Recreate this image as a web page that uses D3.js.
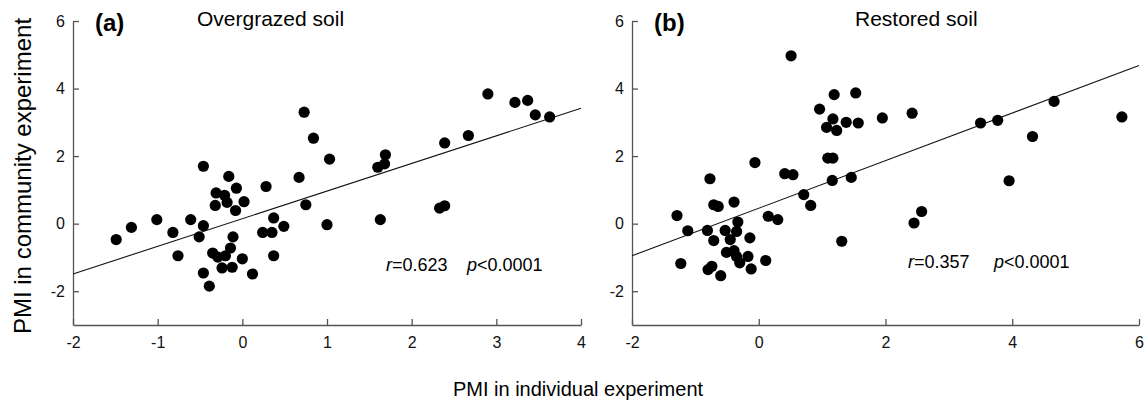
<!DOCTYPE html>
<html>
<head>
<meta charset="utf-8">
<script src="https://cdn.jsdelivr.net/npm/d3@7"></script>
<style>
  body { margin: 0; background: #fff; }
  svg { display: block; font-family: Arial, "Liberation Sans", sans-serif; }
</style>
</head>
<body>
<div id="main"></div>
<script>
// data
var yTicks = [-2, 0, 2, 4, 6];
var xTicksA = [-2, -1, 0, 1, 2, 3, 4];
var xTicksB = [-2, 0, 2, 4, 6];

// (a) overgrazed soil: [individual, community]
var overgrazed = [
  [-0.46, 1.70], [-0.16, 1.40], [-0.07, 1.05], [0.28, 1.10], [0.67, 1.37],
  [0.73, 3.30], [0.84, 2.53], [-0.31, 0.91], [-0.21, 0.84], [-0.18, 0.63],
  [0.02, 0.65], [-0.32, 0.54], [-0.08, 0.39], [0.75, 0.56], [-1.01, 0.12],
  [-1.31, -0.11], [-1.49, -0.47], [-0.61, 0.12], [-0.46, -0.06], [-0.51, -0.39],
  [-0.82, -0.26], [-0.76, -0.95], [-0.11, -0.39], [-0.14, -0.72], [-0.35, -0.87],
  [-0.29, -0.99], [-0.20, -0.95], [0.00, -1.04], [-0.24, -1.31], [-0.12, -1.29],
  [-0.46, -1.46], [-0.39, -1.85], [0.12, -1.49], [0.24, -0.26], [0.35, -0.26],
  [0.37, 0.17], [0.49, -0.08], [0.37, -0.95], [1.00, -0.03], [1.63, 0.12],
  [2.33, 0.46], [2.39, 0.53], [1.03, 1.91], [1.60, 1.67], [1.68, 1.77],
  [1.69, 2.04], [2.39, 2.39], [2.67, 2.61], [2.90, 3.84], [3.22, 3.59],
  [3.37, 3.65], [3.46, 3.22], [3.63, 3.16]
];

// (b) restored soil
var restored = [
  [0.51, 4.97], [-0.77, 1.33], [-0.06, 1.81], [0.41, 1.48], [0.54, 1.45],
  [0.96, 3.39], [1.19, 3.82], [1.53, 3.87], [1.07, 2.85], [1.17, 3.10],
  [1.23, 2.76], [1.38, 3.00], [1.57, 2.98], [1.09, 1.94], [1.17, 1.94],
  [1.16, 1.28], [1.46, 1.37], [0.71, 0.86], [1.95, 3.13], [2.42, 3.27],
  [3.50, 2.98], [3.77, 3.06], [4.66, 3.62], [5.73, 3.16], [4.32, 2.58],
  [3.95, 1.27], [2.57, 0.36], [2.45, 0.02], [1.31, -0.52], [-1.29, 0.24],
  [-0.71, 0.56], [-0.64, 0.51], [-0.39, 0.64], [0.82, 0.54], [0.15, 0.22],
  [0.30, 0.12], [-1.12, -0.21], [-0.81, -0.20], [-0.71, -0.50], [-0.53, -0.20],
  [-0.33, 0.05], [-0.35, -0.23], [-0.45, -0.47], [-0.14, -0.42], [-0.51, -0.85],
  [-0.39, -0.80], [-0.35, -0.97], [-0.17, -0.97], [-0.30, -1.16], [0.11, -1.09],
  [-0.12, -1.34], [-1.23, -1.18], [-0.80, -1.36], [-0.74, -1.26], [-0.60, -1.54]
];

// fitted lines [intercept, slope]
var fitA = [0.147, 0.818];
var fitB = [0.458, 0.704];

var panels = [
  { label: "(a)", title: "Overgrazed soil", pts: overgrazed, fit: fitA, xd: [-2, 4], ticks: xTicksA,
    left: 73, right: 581, r: "=0.623", rx: 386, px: 467, sy: 271, titleX: 197 },
  { label: "(b)", title: "Restored soil", pts: restored, fit: fitB, xd: [-2, 6], ticks: xTicksB,
    left: 632, right: 1139, r: "=0.357", rx: 908, px: 994, sy: 268, titleX: 855 }
];

var W = 1145, H = 404, plotTop = 21, plotBottom = 325;
var fmt = function(d) { return String(d); };  // plain hyphen for negatives

var svg = d3.select("#main").append("svg").attr("width", W).attr("height", H);

var y = d3.scaleLinear().domain([-3, 6]).range([plotBottom, plotTop]);

panels.forEach(function(p) {
  var x = d3.scaleLinear().domain(p.xd).range([p.left, p.right]);
  var g = svg.append("g");

  var ya = g.append("g").attr("transform", "translate(" + p.left + ",0)")
    .call(d3.axisLeft(y).tickValues(yTicks).tickFormat(fmt)
      .tickSizeInner(-6).tickSizeOuter(0).tickPadding(8));
  var xa = g.append("g").attr("transform", "translate(0," + plotBottom + ")")
    .call(d3.axisBottom(x).tickValues(p.ticks).tickFormat(fmt)
      .tickSizeInner(-6).tickSizeOuter(0).tickPadding(12));

  [ya, xa].forEach(function(a) {
    a.attr("font-family", null).attr("font-size", 16);
    a.selectAll("path, line").attr("stroke", "#555").attr("stroke-width", 1.3);
    a.selectAll("text").attr("fill", "#111");
  });

  // regression line over the x range
  g.append("line")
    .attr("x1", x(p.xd[0])).attr("y1", y(p.fit[0] + p.fit[1] * p.xd[0]))
    .attr("x2", x(p.xd[1])).attr("y2", y(p.fit[0] + p.fit[1] * p.xd[1]))
    .attr("stroke", "#111").attr("stroke-width", 1.1);

  g.selectAll("circle").data(p.pts).enter().append("circle")
    .attr("cx", function(d) { return x(d[0]); })
    .attr("cy", function(d) { return y(d[1]); })
    .attr("r", 5.6)
    .attr("fill", "#000");

  g.append("text").attr("x", p.left + 22).attr("y", 31)
    .attr("font-size", 24).attr("font-weight", "bold").text(p.label);
  g.append("text").attr("x", p.titleX).attr("y", 26)
    .attr("font-size", 21).text(p.title);

  var t1 = g.append("text").attr("x", p.rx).attr("y", p.sy).attr("font-size", 18);
  t1.append("tspan").attr("font-style", "italic").text("r");
  t1.append("tspan").text(p.r);
  var t2 = g.append("text").attr("x", p.px).attr("y", p.sy).attr("font-size", 18);
  t2.append("tspan").attr("font-style", "italic").text("p");
  t2.append("tspan").text("<0.0001");
});

svg.append("text")
  .attr("transform", "translate(31,176) rotate(-90)")
  .attr("text-anchor", "middle").attr("font-size", 24)
  .text("PMI in community experiment");

svg.append("text")
  .attr("x", 578).attr("y", 396)
  .attr("text-anchor", "middle").attr("font-size", 20)
  .text("PMI in individual experiment");
</script>
</body>
</html>
